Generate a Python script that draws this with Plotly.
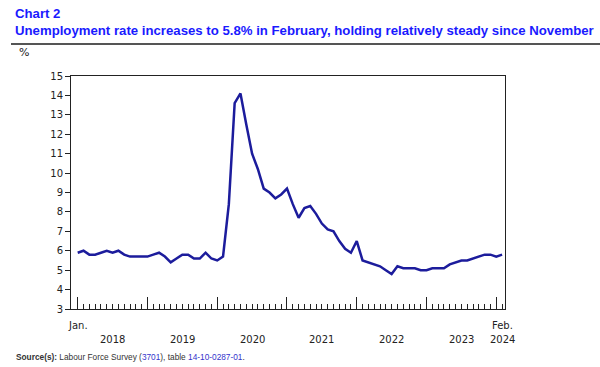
import plotly.graph_objects as go

# Monthly unemployment rate, Jan. 2018 to Feb. 2024 (index 0 = Jan. 2018)
rate = [
    5.9, 6.0, 5.8, 5.8, 5.9, 6.0, 5.9, 6.0, 5.8, 5.7, 5.7, 5.7,   # 2018
    5.7, 5.8, 5.9, 5.7, 5.4, 5.6, 5.8, 5.8, 5.6, 5.6, 5.9, 5.6,   # 2019
    5.5, 5.7, 8.4, 13.6, 14.1, 12.5, 11.0, 10.2, 9.2, 9.0, 8.7, 8.9,  # 2020
    9.2, 8.4, 7.7, 8.2, 8.3, 7.9, 7.4, 7.1, 7.0, 6.5, 6.1, 5.9,   # 2021
    6.5, 5.5, 5.4, 5.3, 5.2, 5.0, 4.8, 5.2, 5.1, 5.1, 5.1, 5.0,   # 2022
    5.0, 5.1, 5.1, 5.1, 5.3, 5.4, 5.5, 5.5, 5.6, 5.7, 5.8, 5.8,   # 2023
    5.7, 5.8,                                                      # 2024
]
month_index = list(range(len(rate)))
years = ["2018", "2019", "2020", "2021", "2022", "2023"]
y_ticks = list(range(3, 16))

W, H = 600, 367
# paper area (pixels): x 11..600, y 40..309
ML, MR, MT, MB = 11, 0, 40, 58
PW, PH = W - ML - MR, H - MT - MB
# plot box (pixels)
BX0, BX1, BY0, BY1 = 71, 505, 76, 309

title_blue = "#1a1aff"
line_col = "#1c1c9c"
axis_font = dict(family="DejaVu Sans", size=10, color="#222")


def px_x(x):
    return (x - ML) / PW


def px_y(y):
    return (H - MB - y) / PH


fig = go.Figure()
fig.add_trace(go.Scatter(x=month_index, y=rate, mode="lines",
                         line=dict(color=line_col, width=2.5), hoverinfo="skip"))
# empty trace so that the helper axis (used as the rule under the title) is drawn
fig.add_trace(go.Scatter(x=[], y=[], xaxis="x2", yaxis="y", mode="lines",
                         hoverinfo="skip", showlegend=False))

fig.update_layout(
    width=W, height=H,
    margin=dict(l=ML, r=MR, t=MT, b=MB, autoexpand=False),
    paper_bgcolor="white", plot_bgcolor="rgba(0,0,0,0)",
    showlegend=False,
    xaxis=dict(domain=[px_x(BX0), px_x(BX1)], range=[-1.15, 73.5],
               showgrid=False, zeroline=False,
               showline=True, linecolor="#222", linewidth=1, mirror=True,
               tickmode="linear", tick0=0, dtick=12, ticks="inside",
               ticklen=12, tickcolor="#222", tickwidth=1, showticklabels=False,
               minor=dict(tickmode="linear", tick0=0, dtick=1, ticks="inside",
                          ticklen=5, tickcolor="#222", tickwidth=1)),
    xaxis2=dict(domain=[0, 1], anchor="free", position=px_y(44),
                showline=True, linecolor="#555555", linewidth=2,
                showticklabels=False, ticks="", showgrid=False, zeroline=False,
                fixedrange=True),
    yaxis=dict(domain=[px_y(BY1), px_y(BY0)], range=[3, 15],
               showgrid=False, zeroline=False,
               showline=True, linecolor="#222", linewidth=1, mirror=True,
               tickvals=y_ticks, ticks="outside", ticklen=5, tickcolor="#222",
               tickfont=axis_font, automargin=False),
)

ann = []
ann.append(dict(x=0, y=px_y(325), xref="x", yref="paper", text="Jan.", showarrow=False,
                font=axis_font, xanchor="center", yanchor="middle"))
ann.append(dict(x=month_index[-1], y=px_y(325), xref="x", yref="paper", text="Feb.",
                showarrow=False, font=axis_font, xanchor="center", yanchor="middle"))
for i, yr in enumerate(years):
    ann.append(dict(x=6 + 12 * i, y=px_y(339), xref="x", yref="paper", text=yr,
                    showarrow=False, font=axis_font, xanchor="center", yanchor="middle"))
ann.append(dict(x=month_index[-1], y=px_y(339), xref="x", yref="paper", text="2024",
                showarrow=False, font=axis_font, xanchor="center", yanchor="middle"))
ann.append(dict(x=px_x(24), y=px_y(52), xref="paper", yref="paper", text="%",
                showarrow=False, font=dict(family="DejaVu Sans", size=11, color="#222"),
                xanchor="center", yanchor="middle"))
ann.append(dict(x=px_x(13), y=px_y(13), xref="paper", yref="paper",
                text="<b>Chart 2</b>", showarrow=False,
                font=dict(family="Liberation Sans", size=13.2, color=title_blue),
                xanchor="left", yanchor="middle"))
ann.append(dict(x=px_x(13), y=px_y(30), xref="paper", yref="paper",
                text="<b>Unemployment rate increases to 5.8% in February, holding relatively steady since November</b>",
                showarrow=False, font=dict(family="Liberation Sans", size=13.2, color=title_blue),
                xanchor="left", yanchor="middle"))
ann.append(dict(x=px_x(14), y=px_y(357), xref="paper", yref="paper",
                text="<b>Source(s):</b> Labour Force Survey (<span style='color:#3333cc'>3701</span>), table "
                     "<span style='color:#3333cc'>14-10-0287-01</span>.",
                showarrow=False, font=dict(family="Liberation Sans", size=8.3, color="#333"),
                xanchor="left", yanchor="middle"))
fig.update_layout(annotations=ann)

fig.write_html("out.html", config={"displayModeBar": False},
               post_script="document.body.style.margin='0';")
